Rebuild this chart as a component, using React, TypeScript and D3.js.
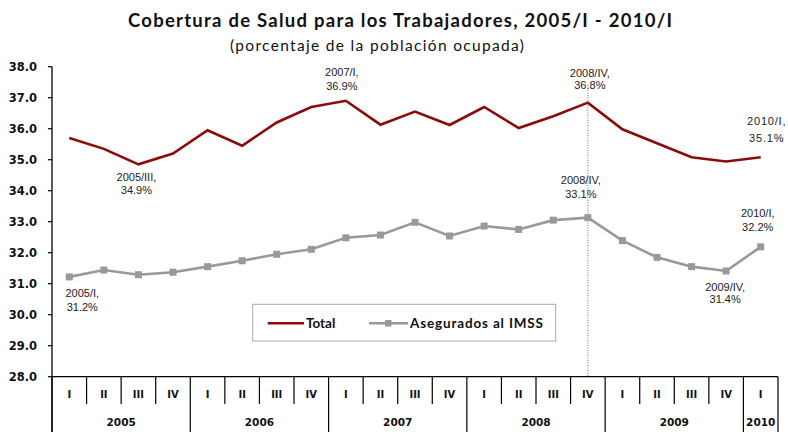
import React from "react";
import * as d3 from "d3";

// quarters 2005/I .. 2010/I
const quarters = [
  "I", "II", "III", "IV",
  "I", "II", "III", "IV",
  "I", "II", "III", "IV",
  "I", "II", "III", "IV",
  "I", "II", "III", "IV",
  "I",
];
const years = ["2005", "2006", "2007", "2008", "2009", "2010"];
const yearQuarters = [4, 4, 4, 4, 4, 1];

const total = [
  35.7, 35.35, 34.85, 35.2,
  35.95, 35.45, 36.2, 36.7,
  36.9, 36.13, 36.55, 36.12,
  36.7, 36.02, 36.4, 36.84,
  35.98, 35.53, 35.08, 34.94,
  35.08,
];
const imss = [
  31.22, 31.44, 31.29, 31.37,
  31.55, 31.74, 31.95, 32.11,
  32.48, 32.57, 32.98, 32.54,
  32.86, 32.75, 33.05, 33.13,
  32.39, 31.85, 31.55, 31.41,
  32.19,
];
const yTicks = [28, 29, 30, 31, 32, 33, 34, 35, 36, 37, 38];

const seriesNames = ["Total", "Asegurados al IMSS"];

// annotations: series, category index, two text lines
const notes = [
  { series: "imss", idx: 0, lines: ["2005/I,", "31.2%"] },
  { series: "total", idx: 2, lines: ["2005/III,", "34.9%"] },
  { series: "total", idx: 8, lines: ["2007/I,", "36.9%"] },
  { series: "total", idx: 15, lines: ["2008/IV,", "36.8%"] },
  { series: "imss", idx: 15, lines: ["2008/IV,", "33.1%"] },
  { series: "total", idx: 20, lines: ["2010/I,", "35.1%"] },
  { series: "imss", idx: 20, lines: ["2010/I,", "32.2%"] },
  { series: "imss", idx: 19, lines: ["2009/IV,", "31.4%"] },
];
// label offsets from the point (layout only)
const noteOffsets = [
  { dx: 13, dy: 20.5, gap: 13.5, ls: 0 },
  { dx: -2, dy: 17, gap: 13, ls: 0 },
  { dx: -4, dy: -25, gap: 14, ls: 0 },
  { dx: 2, dy: -26, gap: 12, ls: 0 },
  { dx: -7, dy: -33.5, gap: 14, ls: 0 },
  { dx: 6, dy: -32, gap: 16.5, ls: 0.8 },
  { dx: -3, dy: -29.5, gap: 13.5, ls: 0 },
  { dx: -1, dy: 20, gap: 12, ls: 0 },
];

const W = 788;
const H = 432;
const left = 52;
const right = 778;
const top = 66.7;
const bottom = 376.7;

const RED = "#8b0a0a";
const GRAY = "#999999";

export default function App() {
  const x = d3
    .scaleBand<number>()
    .domain(d3.range(quarters.length))
    .range([left, right])
    .padding(0);
  const y = d3.scaleLinear().domain([28, 38]).range([bottom, top]);
  const cx = (i: number) => (x(i) as number) + x.bandwidth() / 2;

  const line = d3
    .line<number>()
    .x((_, i) => cx(i))
    .y((d) => y(d));

  const yearStarts = yearQuarters.map((_, i) => d3.sum(yearQuarters.slice(0, i)));
  const boundaries = d3.range(quarters.length + 1).map((i) =>
    i < quarters.length ? (x(i) as number) : right
  );

  const sansBold = "'DejaVu Sans', Verdana, sans-serif";
  const arial = "'Liberation Sans', Arial, sans-serif";
  const calibri = "Lato, 'Open Sans', sans-serif";

  return (
    <svg
      width={W}
      height={H}
      style={{ position: "absolute", left: 0, top: 0, background: "#fff" }}
    >
      <rect width={W} height={H} fill="#fff" />
      {/* title */}
      <text
        x={400}
        y={27}
        textAnchor="middle"
        fontFamily={calibri}
        fontWeight="bold"
        fontSize={18.5}
        textLength={544}
        lengthAdjust="spacing"
        fill="#111"
      >
        Cobertura de Salud para los Trabajadores, 2005/I - 2010/I
      </text>
      <text
        x={377}
        y={51}
        textAnchor="middle"
        fontFamily={calibri}
        fontSize={15.5}
        textLength={294}
        lengthAdjust="spacing"
        fill="#111"
      >
        (porcentaje de la población ocupada)
      </text>

      {/* y axis */}
      <line x1={left} x2={left} y1={top} y2={H} stroke="#000" strokeWidth={1.3} />
      {yTicks.map((t) => (
        <g key={t}>
          <line x1={left - 4} x2={left} y1={y(t)} y2={y(t)} stroke="#000" strokeWidth={1.2} />
          <text
            x={37}
            y={y(t)}
            dy="0.36em"
            textAnchor="end"
            fontFamily={sansBold}
            fontWeight="bold"
            fontSize={11.5}
            fill="#111"
          >
            {t.toFixed(1)}
          </text>
        </g>
      ))}

      {/* x axis */}
      <line x1={left} x2={right} y1={bottom} y2={bottom} stroke="#000" strokeWidth={1.3} />
      {boundaries.map((bx, i) => {
        const isYear = i === quarters.length || yearStarts.includes(i);
        return (
          <line
            key={i}
            x1={bx}
            x2={bx}
            y1={bottom}
            y2={isYear ? H : 404}
            stroke="#000"
            strokeWidth={1.2}
          />
        );
      })}
      {quarters.map((q, i) => (
        <text
          key={i}
          x={cx(i)}
          y={398}
          textAnchor="middle"
          fontFamily={sansBold}
          fontWeight="bold"
          fontSize={10}
          fill="#111"
        >
          {q}
        </text>
      ))}
      {years.map((yr, i) => {
        const s = yearStarts[i];
        const e = s + yearQuarters[i];
        const mid = ((x(s) as number) + (e < quarters.length ? (x(e) as number) : right)) / 2;
        return (
          <text
            key={yr}
            x={mid}
            y={426}
            textAnchor="middle"
            fontFamily={sansBold}
            fontWeight="bold"
            fontSize={10.5}
            fill="#111"
          >
            {yr}
          </text>
        );
      })}

      {/* dotted reference line at 2008/IV */}
      <line
        x1={cx(15)}
        x2={cx(15)}
        y1={85}
        y2={bottom}
        stroke="#777"
        strokeWidth={1}
        strokeDasharray="1,1.5"
      />

      {/* series */}
      <path d={line(total) || ""} fill="none" stroke={RED} strokeWidth={2.6} strokeLinejoin="miter" />
      <path d={line(imss) || ""} fill="none" stroke={GRAY} strokeWidth={2.6} />
      {imss.map((v, i) => (
        <rect key={i} x={cx(i) - 3.5} y={y(v) - 3.5} width={7} height={7} fill={GRAY} />
      ))}

      {/* annotations */}
      {notes.map((n, k) => {
        const o = noteOffsets[k];
        const v = n.series === "total" ? total[n.idx] : imss[n.idx];
        const px = cx(n.idx) + o.dx;
        const py = y(v) + o.dy;
        return (
          <text
            key={k}
            textAnchor="middle"
            fontFamily={arial}
            fontSize={11}
            fill="#222"
            letterSpacing={o.ls}
          >
            {n.lines.map((l, j) => (
              <tspan key={j} x={px} y={py + j * o.gap}>
                {l}
              </tspan>
            ))}
          </text>
        );
      })}

      {/* legend */}
      <rect x={252.7} y={304.3} width={303} height={36.7} fill="#fff" stroke="#aaa" strokeWidth={1} />
      <line x1={267.7} x2={304} y1={323.3} y2={323.3} stroke={RED} strokeWidth={2.6} />
      <text x={306} y={328} fontFamily={calibri} fontWeight="bold" fontSize={13.5} fill="#111">
        {seriesNames[0]}
      </text>
      <line x1={369} x2={408} y1={323.3} y2={323.3} stroke={GRAY} strokeWidth={2.6} />
      <rect x={385} y={320} width={6.5} height={6.5} fill={GRAY} />
      <text
        x={410}
        y={328}
        fontFamily={calibri}
        fontWeight="bold"
        fontSize={13.5}
        textLength={133}
        lengthAdjust="spacing"
        fill="#111"
      >
        {seriesNames[1]}
      </text>
    </svg>
  );
}
